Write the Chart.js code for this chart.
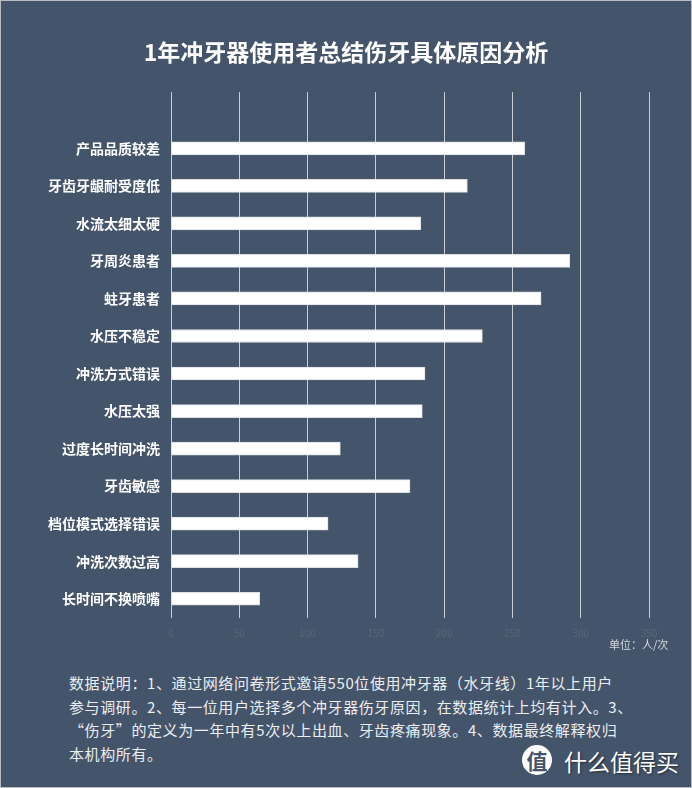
<!DOCTYPE html>
<html>
<head>
<meta charset="utf-8">
<script src="https://cdn.jsdelivr.net/npm/chart.js@4"></script>
<style>
  body { margin: 0; background: #ffffff; }
  .page {
    position: relative;
    width: 692px;
    height: 788px;
    background: #44546a;
    box-shadow: inset 0 0 0 1px #b9bcc2;
    font-family: "Noto Sans CJK SC", "Noto Sans", sans-serif;
    overflow: hidden;
  }
  #chart { position: absolute; left: 0; top: 0; }
  .title {
    position: absolute; left: 0; top: 38px; width: 692px;
    text-align: center; color: #ffffff; font-weight: bold;
    font-size: 23px; line-height: 27px;
  }
  .unit {
    position: absolute; left: 609px; top: 636px;
    color: #d6d9de; font-size: 11px; line-height: 16px;
  }
  .note {
    position: absolute; left: 69px; top: 671px;
    color: #eceef1; font-size: 15px; line-height: 23.5px;
    letter-spacing: 0.6px;
    white-space: nowrap;
  }
  .logo {
    position: absolute; left: 522px; top: 745px;
    width: 30px; height: 30px; border-radius: 50%;
    background: #ffffff; color: #44546a;
    font-size: 21px; line-height: 30px; text-align: center; font-weight: bold;
  }
  .brand {
    position: absolute; left: 564px; top: 747px;
    color: #ffffff; font-size: 23px; line-height: 28px;
    text-shadow: 1px 1px 2px rgba(0,0,0,0.5);
  }
</style>
</head>
<body>
<div class="page">
  <canvas id="chart" width="692" height="650"></canvas>
  <div class="title">1年冲牙器使用者总结伤牙具体原因分析</div>
  <div class="unit">单位：人/次</div>
  <div class="note">
    <div>数据说明：1、通过网络问卷形式邀请550位使用冲牙器（水牙线）1年以上用户</div>
    <div>参与调研。2、每一位用户选择多个冲牙器伤牙原因，在数据统计上均有计入。3、</div>
    <div>“伤牙”的定义为一年中有5次以上出血、牙齿疼痛现象。4、数据最终解释权归</div>
    <div>本机构所有。</div>
  </div>
  <div class="logo">值</div>
  <div class="brand">什么值得买</div>
</div>
<script>
// first row is left empty in the original sheet
const reasons = [
  "",
  "产品品质较差",
  "牙齿牙龈耐受度低",
  "水流太细太硬",
  "牙周炎患者",
  "蛀牙患者",
  "水压不稳定",
  "冲洗方式错误",
  "水压太强",
  "过度长时间冲洗",
  "牙齿敏感",
  "档位模式选择错误",
  "冲洗次数过高",
  "长时间不换喷嘴",
];
const counts = [null, 259, 217, 183, 292, 271, 228, 186, 184, 124, 175, 115, 137, 65];
const xTicks = [0, 50, 100, 150, 200, 250, 300, 350];

const ctx = document.getElementById("chart");
new Chart(ctx, {
  type: "bar",
  data: {
    labels: reasons,
    datasets: [
      {
        data: counts,
        backgroundColor: "#ffffff",
        borderColor: "#dcdfe3",
        borderWidth: 1,
        barThickness: 13,
      },
    ],
  },
  options: {
    indexAxis: "y",
    responsive: false,
    animation: false,
    layout: { padding: { top: 92, right: 43, left: 0, bottom: 0 } },
    plugins: {
      legend: { display: false },
      tooltip: { enabled: false },
    },
    scales: {
      x: {
        min: xTicks[0],
        max: xTicks[xTicks.length - 1],
        afterBuildTicks: (scale) => {
          scale.ticks = xTicks.map((v) => ({ value: v }));
        },
        afterFit: (scale) => {
          scale.height = 32.5;
        },
        grid: { color: "#c9ccd1", lineWidth: 1, drawTicks: false },
        border: { display: false },
        ticks: {
          color: "#5b6577",
          padding: 10,
          font: { size: 10, family: "Noto Sans CJK SC" },
        },
      },
      y: {
        afterFit: (scale) => {
          scale.width = 171;
        },
        grid: { display: false },
        border: { display: false },
        ticks: {
          color: "#ffffff",
          padding: 3,
          font: { size: 14, weight: "bold", family: "Noto Sans CJK SC" },
        },
      },
    },
  },
});
</script>
</body>
</html>
